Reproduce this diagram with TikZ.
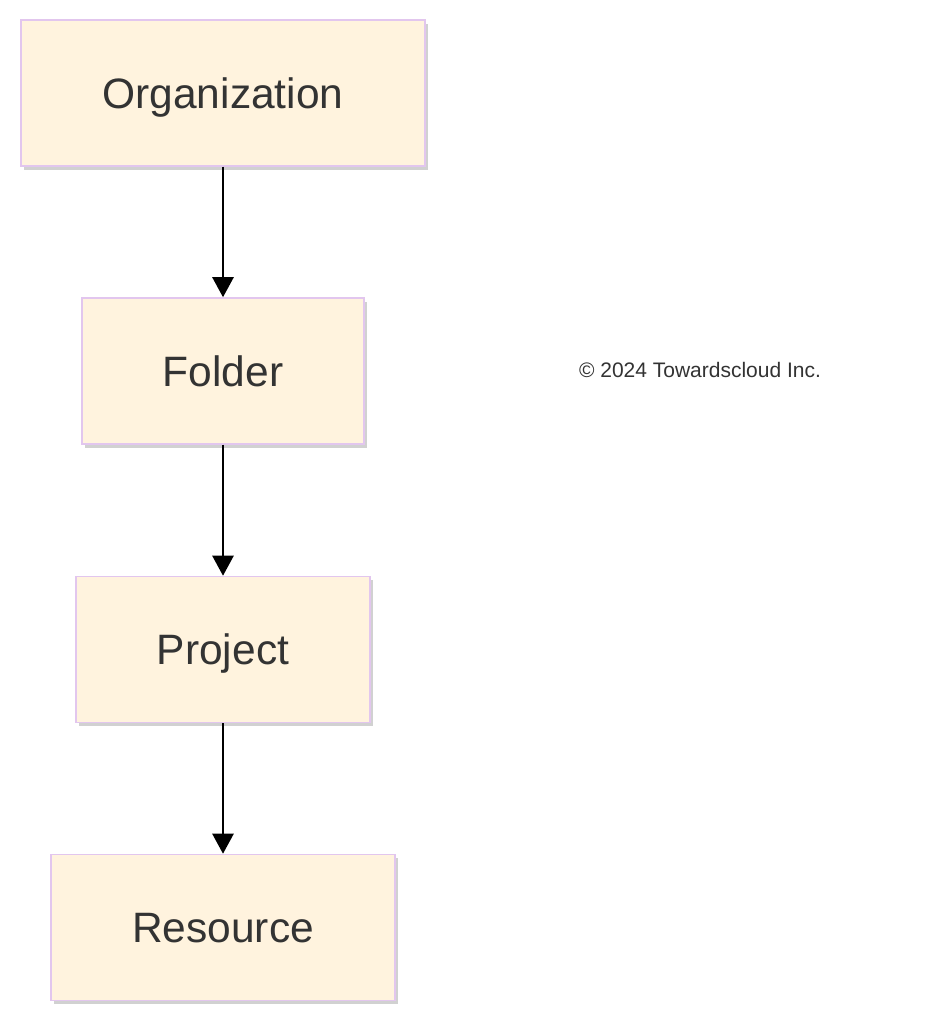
\documentclass[tikz,border=0pt]{standalone}
\usepackage{fontspec}
\setmainfont{Liberation Sans}
\usetikzlibrary{arrows.meta,shadows,positioning}
\definecolor{boxfill}{HTML}{FFF3DE}
\definecolor{boxline}{HTML}{E2C6EE}
\definecolor{txt}{HTML}{333333}
\tikzset{
  levelbox/.style={draw=boxline, line width=1.5pt, fill=boxfill, minimum height=146pt,
    inner sep=0pt, text=txt, font=\fontsize{42.5}{50}\selectfont,
    text height=30.4pt, text depth=0pt,
    drop shadow={shadow xshift=3pt, shadow yshift=-4pt, opacity=0.18, fill=black}},
  flow/.style={line width=2.5pt, -{Triangle[width=21pt,length=20pt]}}
}
\begin{document}
\begin{tikzpicture}[x=1pt,y=1pt]
\useasboundingbox (0,0) rectangle (928,1024);
\fill[white] (0,0) rectangle (928,1024);
\node[levelbox, minimum width=404pt] (org) at (223,931) {Organization};
\node[levelbox, minimum width=282pt] (fold) at (223,653) {Folder};
\node[levelbox, minimum width=294pt] (proj) at (223,374.5) {Project};
\node[levelbox, minimum width=344pt] (res) at (223,96.5) {Resource};
\node[text=txt, font=\fontsize{21}{25}\selectfont, text height=15pt, text depth=0pt] (copy) at (700,654) {© 2024 Towardscloud Inc.};
\draw[flow] (org) -- (fold);
\draw[flow] (fold) -- (proj);
\draw[flow] (proj) -- (res);
\end{tikzpicture}
\end{document}
